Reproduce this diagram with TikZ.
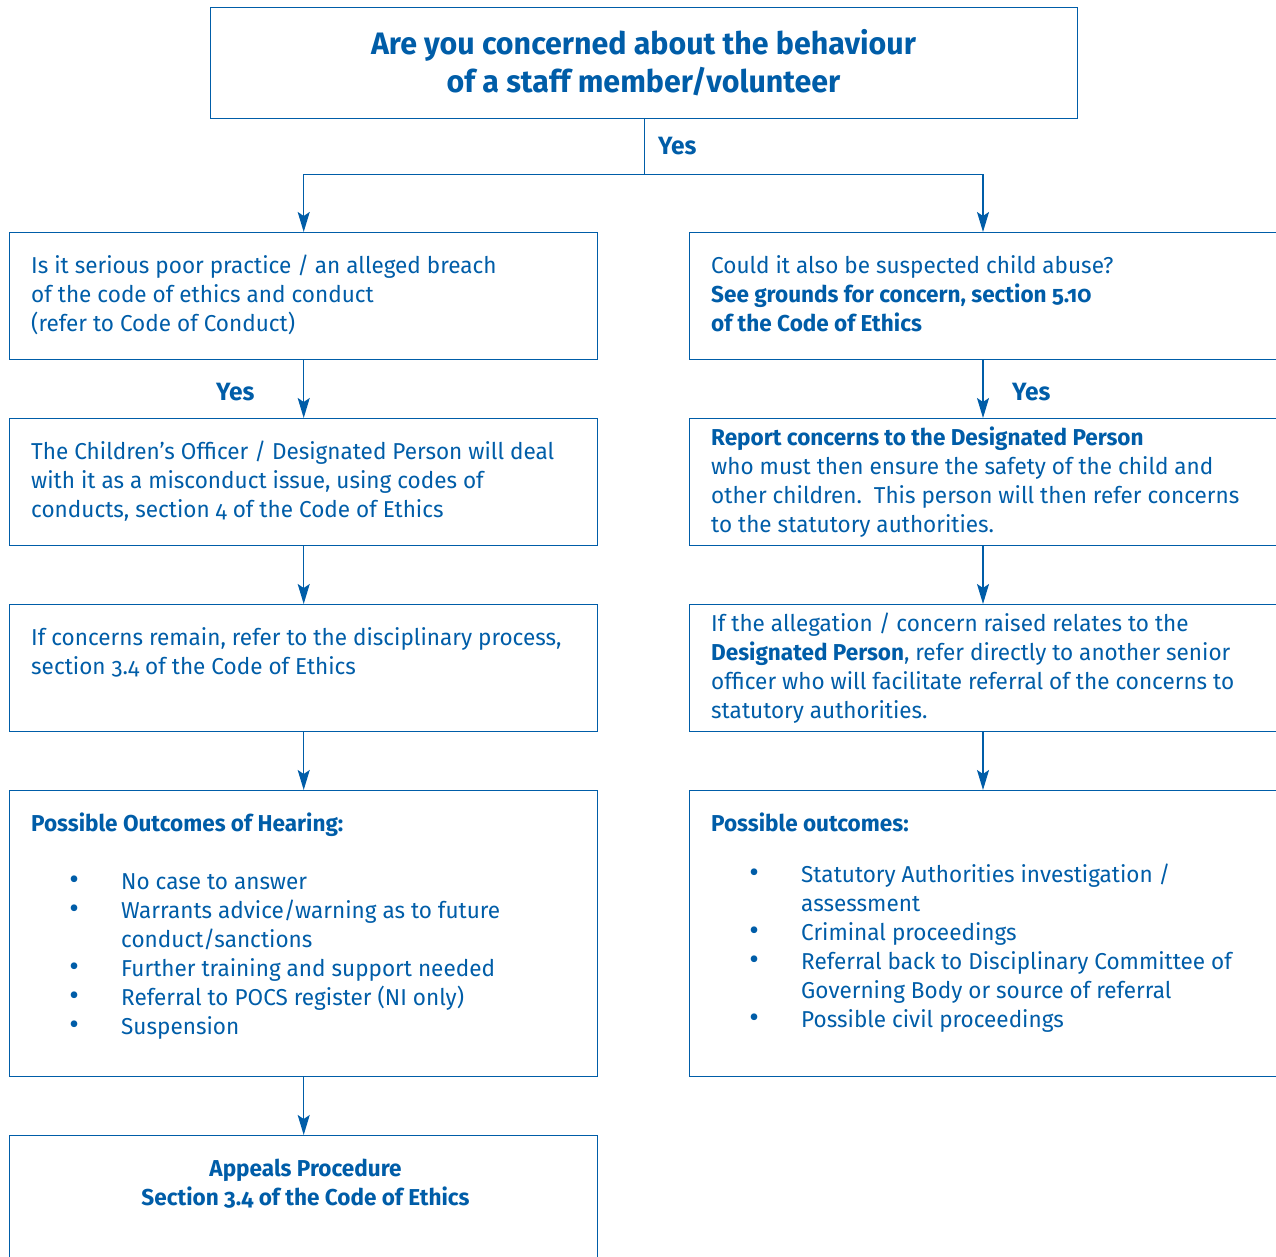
\documentclass[tikz,border=0pt]{standalone}
\usepackage{fontspec}
\setmainfont{Fira Sans}[Numbers=OldStyle,FakeStretch=0.98]
\usetikzlibrary{arrows.meta,calc}
\definecolor{fblue}{RGB}{0,93,168}
\begin{document}
\begin{tikzpicture}[x=1pt,y=-1pt,
  box/.style={draw=fblue,line width=1.4pt,inner sep=0pt,anchor=north west,minimum width=588pt},
  rbox/.style={box,minimum width=600pt},
  conn/.style={draw=fblue,line width=1.4pt,-{Stealth[length=20pt,width=12pt,inset=4pt]}},
  plain/.style={draw=fblue,line width=1.4pt},
  txt/.style={text=fblue,inner sep=0pt,anchor=base west,font=\fontsize{23}{29}\selectfont},
  yes/.style={text=fblue,inner sep=0pt,anchor=base west,font=\fontsize{25}{29}\selectfont\bfseries},
  title/.style={text=fblue,inner sep=0pt,anchor=base,font=\fontsize{31}{38}\selectfont\bfseries}
]
\useasboundingbox (0,0) rectangle (1276,1257);
\clip (0,0) rectangle (1276,1257);
\newcommand\bul{\leavevmode\llap{\makebox[0pt]{\fontsize{30}{29}\selectfont\textbullet}\hspace{47pt}}}
% boxes
\node[box,minimum width=867pt,minimum height=111pt] (top) at (210,7) {};
\node[box,minimum height=127pt] (l1) at (9,232) {};
\node[box,minimum height=127pt] (l2) at (9,418) {};
\node[box,minimum height=127pt] (l3) at (9,604) {};
\node[box,minimum height=286pt] (l4) at (9,790) {};
\node[box,minimum height=140pt] (l5) at (9,1135) {};
\node[rbox,minimum height=127pt] (r1) at (689,232) {};
\node[rbox,minimum height=127pt] (r2) at (689,418) {};
\node[rbox,minimum height=127pt] (r3) at (689,604) {};
\node[rbox,minimum height=286pt] (r4) at (689,790) {};
\coordinate (rx) at (983,0);
% title
\node[title,align=center] (tt) at (643.5,93) {Are you concerned about the behaviour\\of a staff member/volunteer};
% connectors
\draw[plain] (top.south) -- ++(0,55) coordinate (split);
\draw[conn] (split) -| (l1.north);
\draw[conn] (split) -| (r1.north -| rx);
\draw[conn] (l1.south) -- (l2.north);
\draw[conn] (l2.south) -- (l3.north);
\draw[conn] (l3.south) -- (l4.north);
\draw[conn] (l4.south) -- (l5.north);
\draw[conn] (r1.south -| rx) -- (r2.north -| rx);
\draw[conn] (r2.south -| rx) -- (r3.north -| rx);
\draw[conn] (r3.south -| rx) -- (r4.north -| rx);
% yes labels
\node[yes] (y0) at (658,155) {Yes};
\node[yes] (y1) at (216,400) {Yes};
\node[yes] (y2) at (1012,400) {Yes};
% texts left
\node[txt] (tl1) at (31,273) {\parbox[t]{560pt}{\raggedright Is it serious poor practice / an alleged breach\\of the code of ethics and conduct\\(refer to Code of Conduct)}};
\node[txt] (tl2) at (31,459) {\parbox[t]{560pt}{\raggedright The Children’s Officer / Designated Person will deal\\with it as a misconduct issue, using codes of\\conducts, section 4 of the Code of Ethics}};
\node[txt] (tl3) at (31,645) {\parbox[t]{560pt}{\raggedright If concerns remain, refer to the disciplinary process,\\section 3.4 of the Code of Ethics}};
\node[txt] (tl4) at (31,831) {\bfseries Possible Outcomes of Hearing:};
\node[txt] (tl4b) at (121,889) {\parbox[t]{470pt}{\raggedright \bul No case to answer\\\bul Warrants advice/warning as to future\\conduct/sanctions\\\bul Further training and support needed\\\bul Referral to POCS register (NI only)\\\bul Suspension}};
\node[txt,anchor=base,align=center] (tl5) at (305.5,1205) {\bfseries Appeals Procedure\\\bfseries Section 3.4 of the Code of Ethics};
% texts right
\node[txt] (tr1) at (711,273) {\parbox[t]{560pt}{\raggedright Could it also be suspected child abuse?\\\textbf{See grounds for concern, section 5.10}\\\textbf{of the Code of Ethics}}};
\node[txt] (tr2) at (711,445) {\parbox[t]{560pt}{\raggedright \textbf{Report concerns to the Designated Person}\\who must then ensure the safety of the child and\\other children.\ \ This person will then refer concerns\\to the statutory authorities.}};
\node[txt] (tr3) at (711,631) {\parbox[t]{560pt}{\raggedright If the allegation / concern raised relates to the\\\textbf{Designated Person}, refer directly to another senior\\officer who will facilitate referral of the concerns to\\statutory authorities.}};
\node[txt] (tr4) at (711,831) {\bfseries Possible outcomes:};
\node[txt] (tr4b) at (801,882) {\parbox[t]{470pt}{\raggedright \bul Statutory Authorities investigation /\\assessment\\\bul Criminal proceedings\\\bul Referral back to Disciplinary Committee of\\Governing Body or source of referral\\\bul Possible civil proceedings}};
\end{tikzpicture}
\end{document}
